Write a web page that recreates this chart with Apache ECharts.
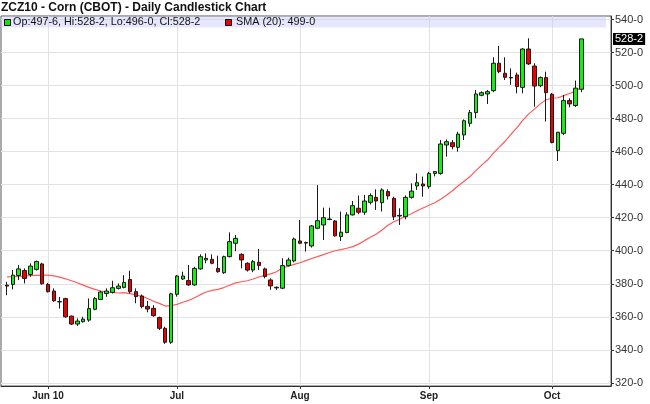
<!DOCTYPE html>
<html><head><meta charset="utf-8">
<script src="https://cdn.jsdelivr.net/npm/echarts@6/dist/echarts.min.js"></script>
<style>html,body{margin:0;padding:0;background:#fff}#c{width:650px;height:404px}</style>
</head><body><div id="c"></div>
<script>
const titleText = 'ZCZ10 - Corn (CBOT) - Daily Candlestick Chart';
const dates = [
'2010-05-20','2010-05-21','2010-05-24','2010-05-25','2010-05-26','2010-05-27','2010-05-28',
'2010-06-01','2010-06-02','2010-06-03','2010-06-04','2010-06-07','2010-06-08','2010-06-09','2010-06-10','2010-06-11',
'2010-06-14','2010-06-15','2010-06-16','2010-06-17','2010-06-18','2010-06-21','2010-06-22','2010-06-23','2010-06-24','2010-06-25',
'2010-06-28','2010-06-29','2010-06-30',
'2010-07-01','2010-07-02','2010-07-06','2010-07-07','2010-07-08','2010-07-09','2010-07-12','2010-07-13','2010-07-14','2010-07-15',
'2010-07-16','2010-07-19','2010-07-20','2010-07-21','2010-07-22','2010-07-23','2010-07-26','2010-07-27','2010-07-28','2010-07-29','2010-07-30',
'2010-08-02','2010-08-03','2010-08-04','2010-08-05','2010-08-06','2010-08-09','2010-08-10','2010-08-11','2010-08-12','2010-08-13',
'2010-08-16','2010-08-17','2010-08-18','2010-08-19','2010-08-20','2010-08-23','2010-08-24','2010-08-25','2010-08-26','2010-08-27',
'2010-08-30','2010-08-31',
'2010-09-01','2010-09-02','2010-09-03','2010-09-07','2010-09-08','2010-09-09','2010-09-10','2010-09-13','2010-09-14','2010-09-15',
'2010-09-16','2010-09-17','2010-09-20','2010-09-21','2010-09-22','2010-09-23','2010-09-24','2010-09-27','2010-09-28','2010-09-29','2010-09-30',
'2010-10-01','2010-10-04','2010-10-05','2010-10-06','2010-10-07','2010-10-08'];
const opens = [379.2,379.6,385.0,388.0,385.6,388.7,392.0,379.6,375.6,369.0,
371.0,360.4,355.6,357.0,358.0,364.5,370.5,374.1,374.8,377.2,
377.8,382.6,375.2,372.6,366.3,365.1,359.5,353.0,344.6,373.6,
382.9,381.9,379.3,389.0,394.4,394.8,389.3,386.7,396.4,404.5,
397.8,392.4,388.3,393.0,389.0,382.3,377.9,377.3,391.0,393.8,
405.9,405.0,402.9,413.6,415.6,419.2,418.0,408.6,411.0,421.7,
425.7,423.3,429.3,432.3,429.1,435.8,431.7,421.4,420.6,432.3,
439.2,440.4,438.8,446.8,446.8,464.0,465.4,462.6,470.1,477.1,
483.6,494.1,494.9,496.9,513.5,507.4,504.9,506.4,498.9,522.1,
511.8,499.9,504.8,494.7,460.6,471.1,490.9,487.9,497.75];
const closes = [378.6,385.2,389.0,383.2,390.7,393.5,380.0,375.2,369.7,369.2,
360.0,355.6,357.4,358.6,365.0,371.0,375.0,375.6,377.6,378.6,
380.8,375.2,372.2,366.2,364.7,360.7,353.0,344.6,373.9,384.7,
384.7,379.3,389.3,396.4,395.4,392.4,387.3,396.4,405.5,407.5,
394.4,388.3,393.4,391.0,384.4,378.7,377.5,391.0,394.4,407.1,
404.5,404.6,415.0,418.2,420.0,418.9,409.0,411.2,421.7,427.3,
423.3,430.1,433.4,430.1,436.8,433.2,420.6,421.0,432.3,436.1,
441.2,439.2,446.8,447.9,464.6,466.0,463.0,470.6,478.7,483.6,
494.9,495.7,496.3,513.5,508.4,505.0,504.6,499.4,522.1,513.1,
499.7,504.8,495.7,465.5,471.7,490.9,488.9,498.4,528.25];
const lows = [373.1,376.6,382.2,380.2,384.2,388.0,379.4,374.7,369.1,365.0,
359.5,355.0,354.4,356.5,357.0,364.0,370.1,372.1,374.1,376.6,
377.2,374.1,368.2,365.1,362.7,360.0,352.0,343.6,343.6,372.2,
382.3,378.8,378.8,388.5,392.4,391.8,386.7,386.0,396.0,399.7,
389.3,387.4,387.0,388.3,383.3,376.3,376.3,376.7,390.4,393.0,
404.0,399.5,401.9,413.0,406.5,418.5,408.6,405.9,410.6,421.3,
422.1,421.7,428.0,424.7,423.7,431.0,418.6,415.6,419.0,431.5,
436.8,432.7,437.5,445.0,446.0,457.0,461.4,460.0,467.0,475.1,
480.2,493.5,488.8,496.0,507.5,503.4,500.4,495.3,495.3,512.5,
487.2,499.0,478.2,465.0,454.3,470.0,486.8,487.0,496.0];
const highs = [381.2,388.3,391.3,389.3,392.3,394.0,392.7,380.5,377.2,372.0,
371.5,360.8,359.0,360.0,371.1,372.0,375.8,377.2,381.8,380.2,
385.2,387.9,377.2,373.5,369.6,367.0,360.1,354.0,374.5,385.3,
387.3,391.4,390.3,397.8,398.4,397.8,397.0,397.0,411.1,409.5,
398.4,393.0,394.4,401.1,389.8,383.3,378.3,395.4,395.8,408.0,
418.6,405.5,415.6,439.7,426.1,426.1,418.5,423.7,423.3,430.1,
433.4,433.8,434.7,437.2,437.8,437.2,432.7,425.7,433.5,440.8,
446.8,444.9,447.8,448.2,467.0,467.4,467.0,472.0,479.5,485.2,
497.3,496.5,497.3,517.1,524.0,517.1,510.4,507.8,522.6,528.6,
513.5,505.5,508.4,495.5,472.0,494.3,492.3,503.0,528.25];
const sma20 = [384.2,384.3,384.5,384.7,384.9,385.1,385.2,385.2,384.8,384.0,
383.0,381.8,380.6,379.2,377.8,376.6,375.6,375.0,374.7,374.4,
374.6,374.0,373.2,372.4,371.1,369.4,368.1,366.5,366.7,367.5,
368.8,369.9,371.5,373.4,375.0,376.0,376.6,377.7,379.1,380.5,
381.2,381.8,382.9,384.1,385.1,386.0,387.3,389.6,390.6,391.7,
392.7,394.0,395.3,396.4,397.6,398.9,400.0,400.7,401.5,402.5,
404.0,406.1,408.1,410.0,412.6,415.4,417.5,419.0,420.9,422.4,
424.2,425.9,427.5,429.0,431.2,433.6,436.3,439.3,442.1,444.9,
448.5,451.8,454.9,459.1,462.7,466.3,470.5,474.4,478.9,482.7,
485.7,488.9,491.4,492.3,492.6,493.9,495.2,496.6,499.0];
const monthTickDates = ['2010-06-01','2010-07-01','2010-08-02','2010-09-01','2010-10-01'];
const monthTickLabels = ['Jun 10','Jul','Aug','Sep','Oct'];
const priceTicks = [320,340,360,380,400,420,440,460,480,500,520,540];

function fmt(v){
  let w = Math.floor(v + 1e-9);
  let e = Math.round((v - w) * 8);
  if (e === 8) { w += 1; e = 0; }
  return w + '-' + e;
}
const last = dates.length - 1;
const tickIdx = monthTickDates.map(d => dates.indexOf(d));
const candleData = dates.map((d, i) => [i, opens[i], closes[i], lows[i], highs[i]]);
const smaData = dates.map((d, i) => [i, sma20[i]]);
const FONT = 'Liberation Sans, Arial, sans-serif';

const chart = echarts.init(document.getElementById('c'), null, {renderer: 'canvas'});
const baseGraphic = [
  {id: 'band', type: 'rect', z: 50, shape: {x: 1, y: 16.5, width: 605, height: 11}, style: {fill: 'rgba(200,200,248,0.45)'}},
  {id: 'sq1', type: 'rect', z: 51, shape: {x: 4.5, y: 19.5, width: 6, height: 6}, style: {fill: '#00ee00', stroke: '#000', lineWidth: 1}},
  {id: 'lg1', type: 'text', z: 51, x: 13, y: 22.5, style: {text: 'Op:' + fmt(opens[last]) + ', Hi:' + fmt(highs[last]) + ', Lo:' + fmt(lows[last]) + ', Cl:' + fmt(closes[last]),
    font: '10.8px ' + FONT, fill: '#111', verticalAlign: 'middle'}},
  {id: 'sq2', type: 'rect', z: 51, shape: {x: 225.5, y: 19.5, width: 6, height: 6}, style: {fill: '#ee0000', stroke: '#000', lineWidth: 1}},
  {id: 'lg2', type: 'text', z: 51, x: 236, y: 22.5, style: {text: 'SMA (20): ' + fmt(sma20[last]),
    font: '10.8px ' + FONT, fill: '#111', verticalAlign: 'middle'}}
];
chart.setOption({
  animation: false,
  backgroundColor: '#fff',
  title: {
    text: titleText, left: 0, top: 1, padding: [1, 1],
    textStyle: {fontSize: 12, fontWeight: 'bold', color: '#111', fontFamily: FONT}
  },
  grid: {left: 1, right: 39, top: 16, bottom: 18, show: true, borderColor: '#555', borderWidth: 1, backgroundColor: '#fff'},
  xAxis: {
    type: 'value', min: -1.02, max: 103.07,
    axisLine: {show: true, onZero: false, lineStyle: {color: '#333', width: 1}},
    axisTick: {show: true, customValues: tickIdx, length: 3, lineStyle: {color: '#333'}},
    axisLabel: {customValues: tickIdx, formatter: v => monthTickLabels[tickIdx.indexOf(v)] || '',
      fontSize: 10, fontWeight: 'bold', color: '#222', fontFamily: FONT, margin: 5},
    splitLine: {show: true, lineStyle: {color: '#e2e2e2', width: 1}}
  },
  yAxis: {
    type: 'value', position: 'right', min: 318.1, max: 542.1,
    axisLine: {show: true, onZero: false, lineStyle: {color: '#333', width: 1}},
    axisTick: {show: true, customValues: priceTicks, length: 3, lineStyle: {color: '#333'}},
    axisLabel: {customValues: priceTicks, formatter: v => fmt(v), fontSize: 11, color: '#333', fontFamily: FONT, margin: 4},
    splitLine: {show: true, lineStyle: {color: '#e2e2e2', width: 1}}
  },
  graphic: baseGraphic,
  series: [
    {
      type: 'line', name: 'SMA (20)', data: smaData, symbol: 'none', showSymbol: false,
      lineStyle: {color: '#ff5a5a', width: 1.2}, z: 2, silent: true
    },
    {
      type: 'candlestick', name: 'ZCZ10', data: candleData,
      encode: {x: 0, y: [1, 2, 3, 4]},
      barWidth: 4,
      itemStyle: {color: '#11f011', color0: '#ee0000', borderColor: '#1a1a1a', borderColor0: '#1a1a1a', borderWidth: 1},
      z: 3
    }
  ]
});
// last-price tag on the price axis, positioned through the axis scale
const tagY = chart.convertToPixel({yAxisIndex: 0}, closes[last]);
const axisX = chart.convertToPixel({xAxisIndex: 0}, 103.07);
chart.setOption({
  graphic: [{
    id: 'tag', type: 'text', z: 60, x: axisX + 2, y: tagY,
    style: {text: fmt(closes[last]), font: '11px ' + FONT, fill: '#fff', backgroundColor: '#000',
      padding: [1, 2, 0, 2], verticalAlign: 'middle'}
  }]
});
</script></body></html>
